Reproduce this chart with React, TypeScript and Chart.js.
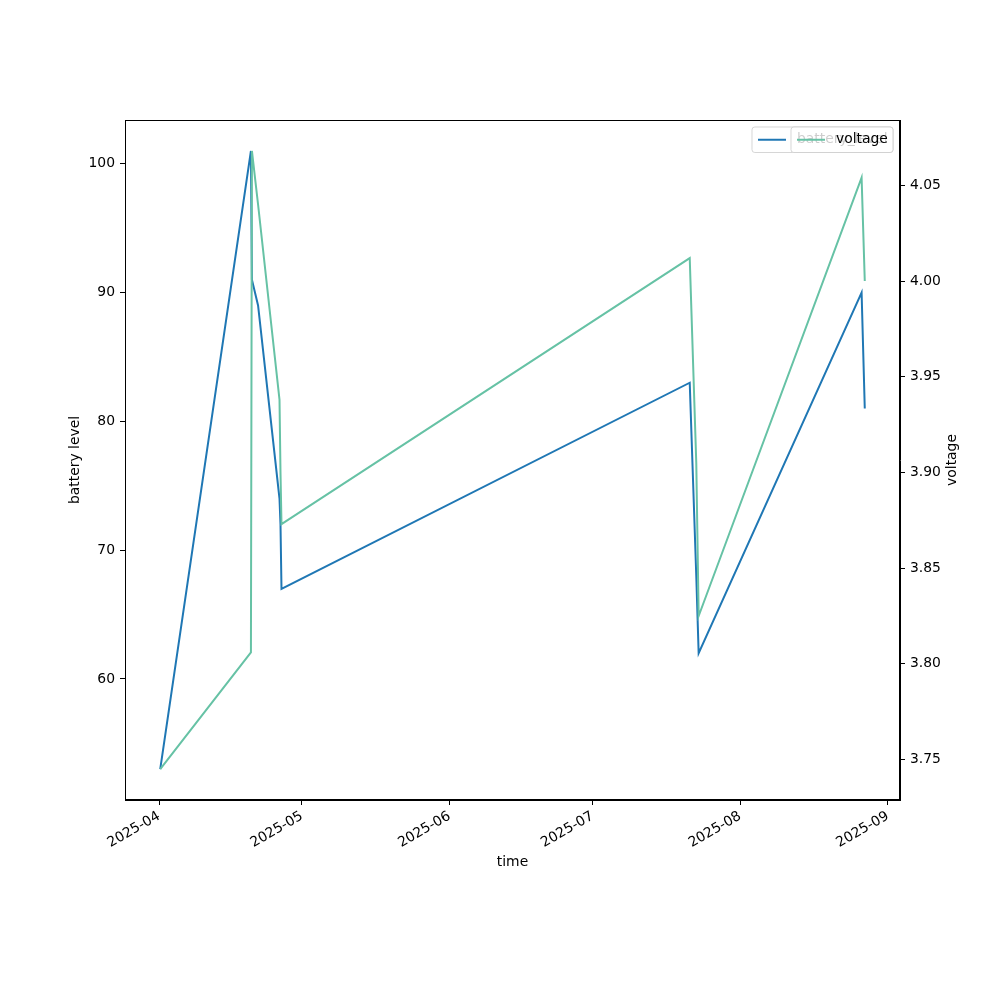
import React, { useEffect, useRef } from 'react';
import { Chart, registerables } from 'chart.js';
Chart.register(...registerables);

const times = [
  "2025-04-01 06:00", "2025-04-20 07:00", "2025-04-20 12:00", "2025-04-21 19:00",
  "2025-04-26 07:00", "2025-04-26 12:00", "2025-04-26 17:00", "2025-07-21 10:00",
  "2025-07-22 19:00", "2025-07-23 07:00", "2025-08-26 12:00", "2025-08-27 04:00",
];
const batteryLevel = [53, 101, 91, 89, 74, 72, 67, 83, 68, 62, 90, 81];
const voltage = [3.745, 3.806, 4.068, 4.04, 3.938, 3.9, 3.873, 4.012, 3.905, 3.825, 4.054, 4.0];
const monthTicks = ["2025-04", "2025-05", "2025-06", "2025-07", "2025-08", "2025-09"];
const batteryTicks = [60, 70, 80, 90, 100];
const voltageTicks = [3.75, 3.8, 3.85, 3.9, 3.95, 4.0, 4.05];

const FONT = 'DejaVu Sans';
const FS = 13.9;
const BLUE = '#1f77b4';
const GREEN = '#66c2a5';

function dayOf(s: string): number {
  const [d, t] = s.split(' ');
  const [Y, M, D] = d.split('-').map(Number);
  const [h, m] = (t || '00:00').split(':').map(Number);
  return (Date.UTC(Y, M - 1, D || 1, h, m) - Date.UTC(2025, 3, 1)) / 86400000;
}

function padRange(arr: number[]) {
  const mn = Math.min(...arr), mx = Math.max(...arr);
  const p = (mx - mn) * 0.05;
  return [mn - p, mx + p];
}

export default function App() {
  const ref = useRef<HTMLCanvasElement>(null);
  useEffect(() => {
    const xs = times.map(dayOf);
    const [xmin, xmax] = padRange(xs);
    const [bmin, bmax] = padRange(batteryLevel);
    const [vmin, vmax] = padRange(voltage);
    const monthVals = monthTicks.map((m) => dayOf(m + '-01 00:00'));

    const decor = {
      id: 'decor',
      afterDraw(chart: any) {
        const ctx = chart.ctx;
        const a = chart.chartArea;
        ctx.save();
        ctx.strokeStyle = '#000';
        ctx.lineWidth = 1;
        ctx.strokeRect(a.left + 0.5, a.top + 0.5, a.right - a.left - 1, a.bottom - a.top - 1);
        ctx.fillStyle = '#000';
        ctx.font = `${FS}px "${FONT}"`;
        ctx.textAlign = 'center';
        ctx.textBaseline = 'middle';
        ctx.fillText('time', (a.left + a.right) / 2, 862);
        ctx.save();
        ctx.translate(75, (a.top + a.bottom) / 2);
        ctx.rotate(-Math.PI / 2);
        ctx.fillText('battery level', 0, 0);
        ctx.restore();
        ctx.save();
        ctx.translate(952, (a.top + a.bottom) / 2);
        ctx.rotate(-Math.PI / 2);
        ctx.fillText('voltage', 0, 0);
        ctx.restore();

        const drawLegend = (x0: number, label: string, color: string) => {
          const x1 = a.right - 7, y0 = a.top + 7, h = 25.5;
          const r = 2.8;
          ctx.beginPath();
          ctx.moveTo(x0 + r, y0);
          ctx.lineTo(x1 - r, y0);
          ctx.arcTo(x1, y0, x1, y0 + r, r);
          ctx.lineTo(x1, y0 + h - r);
          ctx.arcTo(x1, y0 + h, x1 - r, y0 + h, r);
          ctx.lineTo(x0 + r, y0 + h);
          ctx.arcTo(x0, y0 + h, x0, y0 + h - r, r);
          ctx.lineTo(x0, y0 + r);
          ctx.arcTo(x0, y0, x0 + r, y0, r);
          ctx.closePath();
          ctx.fillStyle = 'rgba(255,255,255,0.8)';
          ctx.fill();
          ctx.strokeStyle = 'rgba(204,204,204,0.8)';
          ctx.lineWidth = 1;
          ctx.stroke();
          const cy = y0 + h / 2;
          ctx.strokeStyle = color;
          ctx.lineWidth = 2;
          ctx.beginPath();
          ctx.moveTo(x0 + 6, cy);
          ctx.lineTo(x0 + 34, cy);
          ctx.stroke();
          ctx.fillStyle = '#000';
          ctx.textAlign = 'left';
          ctx.textBaseline = 'middle';
          ctx.fillText(label, x0 + 45, cy);
        };
        drawLegend(752, 'battery_level', BLUE);
        drawLegend(791, 'voltage', GREEN);
        ctx.restore();
      },
    };

    const chart = new Chart(ref.current!, {
      type: 'line',
      data: {
        datasets: [
          {
            label: 'battery_level',
            data: xs.map((x, i) => ({ x, y: batteryLevel[i] })),
            borderColor: BLUE,
            borderWidth: 2,
            pointRadius: 0,
            tension: 0,
            yAxisID: 'y',
            order: 1,
          },
          {
            label: 'voltage',
            data: xs.map((x, i) => ({ x, y: voltage[i] })),
            borderColor: GREEN,
            borderWidth: 2,
            pointRadius: 0,
            tension: 0,
            yAxisID: 'y1',
            order: 0,
          },
        ],
      },
      options: {
        responsive: false,
        animation: false,
        layout: { padding: { top: 120, left: 0, right: 0, bottom: 0 } },
        plugins: { legend: { display: false }, tooltip: { enabled: false } },
        font: { family: FONT, size: FS },
        scales: {
          x: {
            type: 'linear',
            min: xmin,
            max: xmax,
            afterFit: (s: any) => { s.height = 200; },
            afterBuildTicks: (s: any) => { s.ticks = monthVals.map((v) => ({ value: v })); },
            grid: { drawOnChartArea: false, drawTicks: true, tickLength: 5, tickColor: '#000' },
            border: { display: true, color: '#000' },
            ticks: {
              autoSkip: false,
              maxRotation: 30,
              minRotation: 30,
              padding: 3,
              color: '#000',
              font: { family: FONT, size: FS },
              callback: (v: any) => {
                const i = monthVals.findIndex((m) => Math.abs(m - v) < 1e-6);
                return i >= 0 ? monthTicks[i] : '';
              },
            },
          },
          y: {
            type: 'linear',
            position: 'left',
            min: bmin,
            max: bmax,
            afterFit: (s: any) => { s.width = 125; },
            afterBuildTicks: (s: any) => { s.ticks = batteryTicks.map((v) => ({ value: v })); },
            grid: { drawOnChartArea: false, drawTicks: true, tickLength: 5, tickColor: '#000' },
            border: { display: true, color: '#000' },
            ticks: {
              padding: 5,
              color: '#000',
              font: { family: FONT, size: FS },
              callback: (v: any) => String(v),
            },
          },
          y1: {
            type: 'linear',
            position: 'right',
            min: vmin,
            max: vmax,
            afterFit: (s: any) => { s.width = 100; },
            afterBuildTicks: (s: any) => { s.ticks = voltageTicks.map((v) => ({ value: v })); },
            grid: { drawOnChartArea: false, drawTicks: true, tickLength: 5, tickColor: '#000' },
            border: { display: true, color: '#000' },
            ticks: {
              padding: 5,
              color: '#000',
              font: { family: FONT, size: FS },
              callback: (v: any) => Number(v).toFixed(2),
            },
          },
        },
      } as any,
      plugins: [decor],
    });
    return () => chart.destroy();
  }, []);

  return (
    <div style={{ position: 'absolute', left: 0, top: 0, width: 1000, height: 1000, background: '#fff' }}>
      <canvas ref={ref} width={1000} height={1000} style={{ display: 'block' }} />
    </div>
  );
}
